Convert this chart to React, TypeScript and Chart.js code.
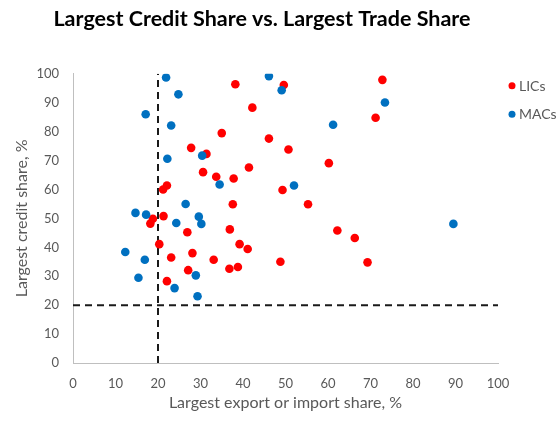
import React, { useEffect, useRef } from "react";
import { Chart, registerables } from "chart.js";

Chart.register(...registerables);

const TITLE = "Largest Credit Share vs. Largest Trade Share";
const X_TITLE = "Largest export or import share, %";
const Y_TITLE = "Largest credit share, %";
const THRESHOLD = 20;
const AXIS_MIN = 0;
const AXIS_MAX = 100;
const AXIS_STEP = 10;

const LIC_LABEL = "LICs";
const LIC_X = [38.2, 49.6, 72.8, 42.2, 71.2, 35.0, 46.1, 27.8, 50.7, 31.4, 60.2, 41.4, 30.6, 33.7, 37.8, 22.1, 21.2, 49.3, 37.6, 55.3, 21.3, 18.8, 18.2, 36.9, 62.2, 26.9, 66.3, 20.3, 39.2, 41.1, 28.1, 23.1, 33.1, 48.8, 69.3, 38.8, 36.8, 27.1, 22.1];
const LIC_Y = [96.4, 96.1, 97.9, 88.3, 84.8, 79.5, 77.6, 74.4, 73.8, 72.3, 69.1, 67.6, 66.0, 64.4, 63.8, 61.4, 60.0, 59.8, 54.9, 54.9, 50.8, 49.9, 48.2, 46.2, 45.8, 45.2, 43.2, 41.1, 41.1, 39.4, 38.0, 36.5, 35.7, 35.0, 34.8, 33.2, 32.6, 32.1, 28.3];

const MAC_LABEL = "MACs";
const MAC_X = [21.9, 46.1, 49.1, 24.8, 73.4, 17.1, 23.1, 61.2, 30.4, 22.2, 34.5, 52.0, 26.5, 14.7, 17.2, 29.6, 24.3, 30.2, 89.5, 12.3, 16.9, 28.9, 15.4, 23.9, 29.3];
const MAC_Y = [98.7, 99.2, 94.3, 92.9, 90.1, 86.0, 82.1, 82.4, 71.7, 70.6, 61.7, 61.4, 55.0, 51.9, 51.3, 50.6, 48.4, 48.1, 48.1, 38.4, 35.7, 30.3, 29.5, 25.9, 23.1];

const LIC_COLOR = "#FF0000";
const MAC_COLOR = "#0070C0";
const TEXT_COLOR = "#595959";
const FONT = "Lato, 'Open Sans', sans-serif";

const toPoints = (xs: number[], ys: number[]) => xs.map((x, i) => ({ x, y: ys[i] }));

const customLegend = {
  id: "customLegend",
  afterDraw(chart: any) {
    const { ctx, chartArea } = chart;
    const items = [
      { label: LIC_LABEL, color: LIC_COLOR },
      { label: MAC_LABEL, color: MAC_COLOR },
    ];
    ctx.save();
    ctx.font = `14px ${FONT}`;
    ctx.textBaseline = "middle";
    ctx.textAlign = "left";
    items.forEach((it, i) => {
      const cy = chartArea.top + 12 + i * 28.5;
      const cx = chartArea.right + 14;
      ctx.beginPath();
      ctx.fillStyle = it.color;
      ctx.arc(cx, cy, 3.5, 0, Math.PI * 2);
      ctx.fill();
      ctx.fillStyle = TEXT_COLOR;
      ctx.fillText(it.label, cx + 7, cy + 0.5);
    });
    ctx.restore();
  },
};

export default function App() {
  const ref = useRef<HTMLCanvasElement>(null);
  useEffect(() => {
    if (!ref.current) return;
    const dash = { borderColor: "#1a1a1a", borderWidth: 2, borderDash: [7, 5], pointRadius: 0, showLine: true, fill: false };
    const chart = new Chart(ref.current, {
      type: "scatter",
      data: {
        datasets: [
          { label: MAC_LABEL, data: toPoints(MAC_X, MAC_Y), backgroundColor: MAC_COLOR, borderWidth: 0, pointRadius: 4.3 },
          { label: LIC_LABEL, data: toPoints(LIC_X, LIC_Y), backgroundColor: LIC_COLOR, borderWidth: 0, pointRadius: 4.3 },
          { label: "vline", data: [{ x: THRESHOLD, y: AXIS_MIN }, { x: THRESHOLD, y: AXIS_MAX }], ...dash } as any,
          { label: "hline", data: [{ x: AXIS_MIN, y: THRESHOLD }, { x: AXIS_MAX, y: THRESHOLD }], ...dash } as any,
        ],
      },
      options: {
        animation: false,
        responsive: false,
        maintainAspectRatio: false,
        layout: { padding: { left: 0, right: 36, top: 0, bottom: 0 } },
        plugins: {
          legend: { display: false },
          tooltip: { enabled: false },
          title: {
            display: true,
            text: TITLE,
            color: "#000000",
            font: { family: FONT, size: 21.5, weight: "bold" },
            padding: { top: 6, bottom: 42 },
          },
        },
        scales: {
          x: {
            type: "linear",
            min: AXIS_MIN,
            max: AXIS_MAX,
            ticks: { stepSize: AXIS_STEP, color: TEXT_COLOR, font: { family: FONT, size: 13 }, padding: 13, maxRotation: 0 },
            grid: { display: false, drawTicks: false },
            border: { display: true, color: "#bfbfbf", width: 1 },
            title: { display: true, text: X_TITLE, color: TEXT_COLOR, font: { family: FONT, size: 16 }, padding: { top: 0, bottom: 11 } },
            afterFit: (s: any) => { s.height = 60; },
          },
          y: {
            type: "linear",
            min: AXIS_MIN,
            max: AXIS_MAX,
            ticks: { stepSize: AXIS_STEP, color: TEXT_COLOR, font: { family: FONT, size: 13 }, padding: 14 },
            grid: { display: false, drawTicks: false },
            border: { display: true, color: "#bfbfbf", width: 1 },
            title: { display: true, text: Y_TITLE, color: TEXT_COLOR, font: { family: FONT, size: 16 }, padding: { top: 12, bottom: 0 } },
            afterFit: (s: any) => { s.width = 73; },
          },
          legendSpace: {
            type: "linear",
            position: "right",
            display: true,
            grid: { display: false, drawTicks: false },
            border: { display: false },
            ticks: { display: false },
            afterFit: (s: any) => { s.width = 26; },
          },
        },
      },
      plugins: [customLegend],
    });
    return () => chart.destroy();
  }, []);
  return (
    <div style={{ position: "fixed", left: 0, top: 0, width: 560, height: 423, background: "#fff" }}>
      <canvas ref={ref} width={560} height={423} style={{ width: 560, height: 423 }} />
    </div>
  );
}
